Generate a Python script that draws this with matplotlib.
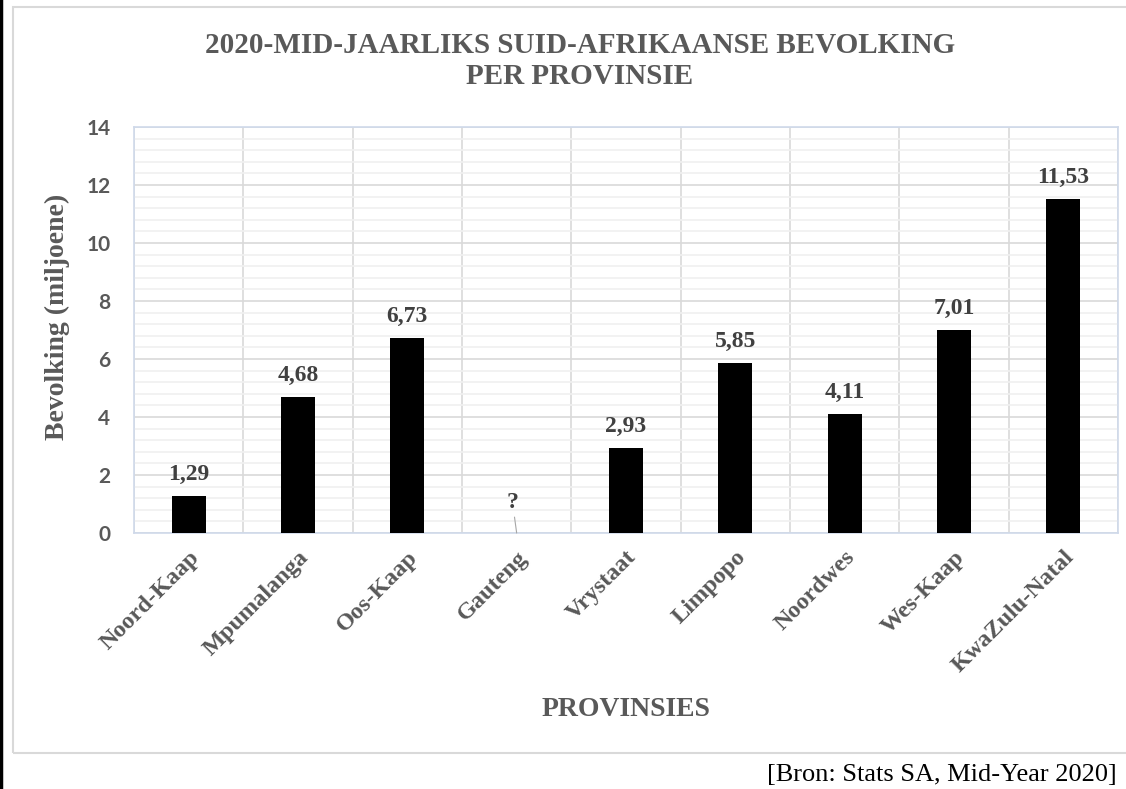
import matplotlib

matplotlib.use("Agg")
import matplotlib.pyplot as plt
import numpy as np
from matplotlib.lines import Line2D
from matplotlib.patches import Rectangle
from matplotlib.ticker import MultipleLocator

provinces = ["Noord-Kaap", "Mpumalanga", "Oos-Kaap", "Gauteng", "Vrystaat",
             "Limpopo", "Noordwes", "Wes-Kaap", "KwaZulu-Natal"]
population = [1.29, 4.68, 6.73, np.nan, 2.93, 5.85, 4.11, 7.01, 11.53]
unknown = "Gauteng"  # value hidden in the source, shown as "?"

TITLE = "2020-MID-JAARLIKS SUID-AFRIKAANSE BEVOLKING\nPER PROVINSIE"
GREY = "#595959"
SERIF = "Liberation Serif"

fig = plt.figure(figsize=(11.26, 7.89), dpi=100)
ax = fig.add_axes([134 / 1126, 1 - 533 / 789, 984 / 1126, 406 / 789])

x = np.arange(len(provinces))
ax.bar(x, population, width=0.31, color="black", zorder=3)

for xi, val, name in zip(x, population, provinces):
    if name == unknown:
        ax.annotate("?", xy=(xi, 0), xytext=(-3, 22), textcoords="offset points",
                    ha="center", va="center", family=SERIF, weight="bold",
                    fontsize=17, color="#404040",
                    arrowprops=dict(arrowstyle="-", color="#a6a6a6", lw=0.8,
                                    shrinkA=1, shrinkB=0))
    else:
        ax.annotate(f"{val:.2f}".replace(".", ","), xy=(xi, val), xytext=(0, 8),
                    textcoords="offset points", ha="center", va="bottom",
                    family=SERIF, weight="bold", fontsize=17, color="#404040")

ax.set_xlim(-0.5, len(provinces) - 0.5)
ax.set_ylim(0, 14)
ax.yaxis.set_major_locator(MultipleLocator(2))
ax.yaxis.set_minor_locator(MultipleLocator(0.4))
ax.set_xticks(x)
ax.set_xticks(np.arange(-0.5, len(provinces)), minor=True)
ax.set_xticklabels(provinces, rotation=45, ha="right", rotation_mode="anchor",
                   family=SERIF, weight="bold", fontsize=17.5, color=GREY)
for lab in ax.get_yticklabels():
    lab.set_family("Lato")
    lab.set_weight("bold")
    lab.set_fontsize(15)
    lab.set_color(GREY)
ax.tick_params(axis="both", which="both", length=0)
ax.tick_params(axis="y", pad=17)
ax.tick_params(axis="x", pad=10)

ax.set_axisbelow(True)
ax.yaxis.grid(True, which="minor", color="#f0f0f0", lw=1.2, zorder=0)
ax.yaxis.grid(True, which="major", color="#d9d9d9", lw=1.2, zorder=1)
ax.xaxis.grid(True, which="minor", color="#d9d9d9", lw=1.2, zorder=1)
ax.xaxis.grid(False, which="major")
for sp in ax.spines.values():
    sp.set_color("#cfd9ea")
    sp.set_linewidth(1.2)

ax.set_ylabel("Bevolking (miljoene)", family=SERIF, weight="bold", fontsize=20,
              color=GREY, va="center")
ax.yaxis.set_label_coords(-0.078, 0.532)
fig.text(626 / 1126, 1 - 710 / 789, "PROVINSIES", ha="center", va="center",
         family=SERIF, weight="bold", fontsize=20, color=GREY)
fig.text(580 / 1126, 1 - 61 / 789, TITLE, ha="center", va="center",
         family=SERIF, weight="bold", fontsize=21, color=GREY, linespacing=1.15)
fig.text(1117 / 1126, 1 - 775 / 789, "[Bron: Stats SA, Mid-Year 2020]",
         ha="right", va="center", family=SERIF, fontsize=19, color="black")

# chart frame and page edge
fig.add_artist(Rectangle((13 / 1126, 1 - 753 / 789), 1.2, 746 / 789,
                         transform=fig.transFigure, fill=False,
                         edgecolor="#d9d9d9", lw=1.5))
fig.add_artist(Line2D([0.0012, 0.0012], [0, 1], transform=fig.transFigure,
                      color="black", lw=2.5))

fig.savefig("out.png", dpi=100)
